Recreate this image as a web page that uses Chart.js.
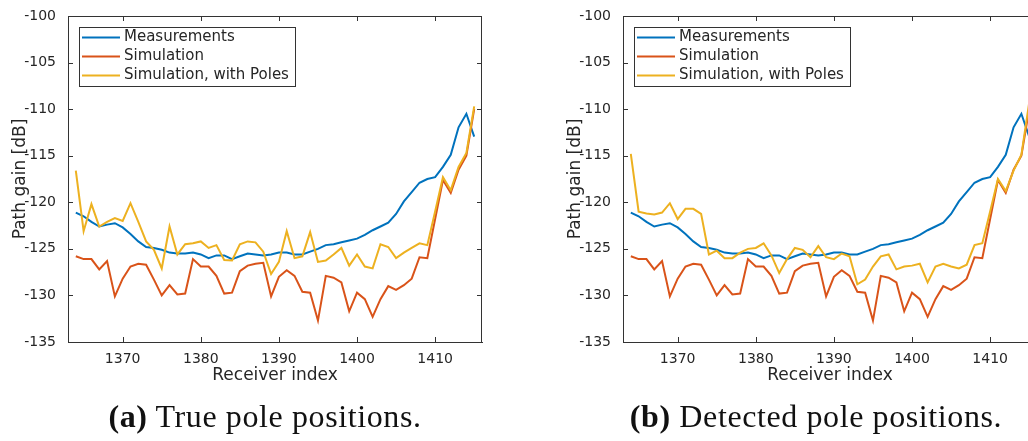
<!DOCTYPE html>
<html>
<head>
<meta charset="utf-8">
<title>Path gain vs receiver index</title>
<script src="https://cdn.jsdelivr.net/npm/chart.js@4.4.0/dist/chart.umd.min.js"></script>
<style>
  html, body { margin: 0; padding: 0; background: #fff; }
  body { width: 1028px; height: 441px; overflow: hidden; position: relative; }
  .panel { position: absolute; top: 0; width: 500px; height: 400px; }
  #panelA { left: 0; }
  #panelB { left: 555px; }
  .caption {
    position: absolute; top: 398px;
    font-family: 'Liberation Serif', serif; font-size: 32px; color: #111;
    letter-spacing: 0.6px;
    white-space: nowrap; transform: translateX(-50%);
  }
  .caption b { font-weight: bold; }
</style>
</head>
<body>
<div class="panel" id="panelA"><canvas id="chartA"></canvas></div>
<div class="panel" id="panelB"><canvas id="chartB"></canvas></div>
<div class="caption" style="left:265px"><b>(a)</b> True pole positions.</div>
<div class="caption" style="left:816px"><b>(b)</b> Detected pole positions.</div>

<script>
// ── data ────────────────────────────────────
const receiverIndex = [
  1364, 1365, 1366, 1367, 1368, 1369, 1370, 1371, 1372, 1373, 1374, 1375, 1376,
  1377, 1378, 1379, 1380, 1381, 1382, 1383, 1384, 1385, 1386, 1387, 1388, 1389,
  1390, 1391, 1392, 1393, 1394, 1395, 1396, 1397, 1398, 1399, 1400, 1401, 1402,
  1403, 1404, 1405, 1406, 1407, 1408, 1409, 1410, 1411, 1412, 1413, 1414, 1415
];

const measurements = [
  -121.1, -121.5, -122.1, -122.6, -122.4, -122.25, -122.7, -123.4, -124.2, -124.8, -124.9, -125.1, -125.4,
  -125.5, -125.5, -125.4, -125.6, -126.0, -125.7, -125.7, -126.1, -125.8, -125.5, -125.6, -125.7, -125.6,
  -125.4, -125.4, -125.6, -125.6, -125.3, -125.0, -124.6, -124.5, -124.3, -124.1, -123.9, -123.5, -123.0,
  -122.6, -122.2, -121.25, -119.9, -118.9, -117.9, -117.5, -117.3, -116.2, -114.9, -111.95, -110.5, -112.95
];

const simulation = [
  -125.8, -126.1, -126.1, -127.2, -126.3, -130.1, -128.2, -126.9, -126.6, -126.7, -128.3, -130.0, -128.9,
  -129.9, -129.8, -126.1, -126.9, -126.9, -127.9, -129.8, -129.7, -127.4, -126.8, -126.6, -126.5, -130.1,
  -128.0, -127.3, -127.9, -129.6, -129.7, -132.7, -127.9, -128.1, -128.6, -131.7, -129.7, -130.4, -132.3,
  -130.4, -129.0, -129.4, -128.9, -128.2, -125.9, -126.0, -121.8, -117.6, -119.0, -116.5, -115.0, -110.0
];

// (a) true pole positions
const simPolesTrue = [
  -116.6, -123.1, -120.2, -122.6, -122.1, -121.7, -122.0, -120.1, -122.1, -124.2, -125.1, -127.1, -122.6,
  -125.6, -124.5, -124.4, -124.2, -124.9, -124.6, -126.2, -126.25, -124.5, -124.2, -124.3, -125.3, -127.7,
  -126.4, -123.1, -126.0, -125.8, -123.2, -126.4, -126.25, -125.6, -124.9, -126.8, -125.6, -126.9, -127.1,
  -124.5, -124.8, -126.0, -125.4, -124.9, -124.4, -124.6, -121.0, -117.3, -118.7, -116.2, -114.7, -109.7
];

// (b) detected pole positions
const simPolesDetected = [
  -114.8, -121.0, -121.2, -121.3, -121.1, -120.1, -121.8, -120.7, -120.7, -121.25, -125.6, -125.2, -126.0,
  -126.0, -125.4, -125.0, -124.9, -124.4, -125.7, -127.6, -126.1, -124.9, -125.1, -125.9, -124.7, -125.9,
  -126.1, -125.5, -125.8, -128.8, -128.3, -126.9, -125.8, -125.6, -127.2, -126.9, -126.8, -126.6, -128.6,
  -126.9, -126.6, -126.9, -127.1, -126.7, -124.6, -124.4, -121.0, -117.5, -118.8, -116.6, -114.9, -109.3
];

const seriesLabels = ['Measurements', 'Simulation', 'Simulation, with Poles'];
const xTicks = [1370, 1380, 1390, 1400, 1410];
const yTicks = [-135, -130, -125, -120, -115, -110, -105, -100];

// ── style ───────────────────────────────────
const COLORS = ['#0072BD', '#D95319', '#EDB120'];
const AXIS = '#333333';
const TEXT = '#262626';
const FONT = "'DejaVu Sans', sans-serif";

// MATLAB-like box, inward ticks and legend inside the axes
const matlabAxes = {
  id: 'matlabAxes',
  afterDraw(chart) {
    const { ctx, chartArea: a, scales: { x, y } } = chart;
    const tick = 5;
    ctx.save();
    ctx.strokeStyle = AXIS;
    ctx.lineWidth = 1;
    ctx.beginPath();
    ctx.moveTo(a.left, a.top + 0.5);
    ctx.lineTo(a.right, a.top + 0.5);
    ctx.moveTo(a.right - 0.5, a.top);
    ctx.lineTo(a.right - 0.5, a.bottom);
    x.ticks.forEach(t => {
      const px = Math.round(x.getPixelForValue(t.value)) + 0.5;
      ctx.moveTo(px, a.bottom); ctx.lineTo(px, a.bottom - tick);
      ctx.moveTo(px, a.top); ctx.lineTo(px, a.top + tick);
    });
    y.ticks.forEach(t => {
      const py = Math.round(y.getPixelForValue(t.value)) + 0.5;
      ctx.moveTo(a.left, py); ctx.lineTo(a.left + tick, py);
      ctx.moveTo(a.right, py); ctx.lineTo(a.right - tick, py);
    });
    ctx.stroke();

    // legend box
    const bx = a.left + 11, by = a.top + 11, bw = 216, bh = 59;
    ctx.fillStyle = '#fff';
    ctx.fillRect(bx, by, bw, bh);
    ctx.strokeStyle = AXIS;
    ctx.strokeRect(bx + 0.5, by + 0.5, bw, bh);
    ctx.font = '15px ' + FONT;
    ctx.textBaseline = 'middle';
    chart.data.datasets.forEach((ds, i) => {
      const ry = by + 10.5 + i * 19;
      ctx.strokeStyle = ds.borderColor;
      ctx.lineWidth = 2;
      ctx.beginPath();
      ctx.moveTo(bx + 3, ry);
      ctx.lineTo(bx + 41, ry);
      ctx.stroke();
      ctx.fillStyle = TEXT;
      ctx.fillText(ds.label, bx + 45, ry);
    });
    ctx.restore();
  }
};

function makeChart(canvasId, polesSeries) {
  const series = [measurements, simulation, polesSeries];
  const ctx = document.getElementById(canvasId).getContext('2d');
  return new Chart(ctx, {
    type: 'line',
    data: {
      datasets: series.map((vals, i) => ({
        label: seriesLabels[i],
        data: receiverIndex.map((r, k) => ({ x: r, y: vals[k] })),
        borderColor: COLORS[i],
        borderWidth: 2,
        pointRadius: 0,
        tension: 0,
        fill: false,
        order: 2 - i
      }))
    },
    options: {
      responsive: true,
      maintainAspectRatio: false,
      animation: false,
      layout: { padding: { left: 0, top: 16, right: 18, bottom: 0 } },
      plugins: {
        legend: { display: false },
        tooltip: { enabled: false }
      },
      scales: {
        x: {
          type: 'linear',
          min: 1363,
          max: 1416,
          afterBuildTicks: s => { s.ticks = xTicks.map(v => ({ value: v })); },
          afterFit: s => { s.height = 58; },
          grid: { display: false },
          border: { display: true, color: AXIS, width: 1 },
          ticks: {
            font: { family: FONT, size: 14 },
            color: TEXT,
            padding: 1,
            maxRotation: 0,
            callback: v => String(v)
          },
          title: {
            display: true,
            text: 'Receiver index',
            font: { family: FONT, size: 17 },
            color: TEXT,
            padding: { top: 0, bottom: 14 }
          }
        },
        y: {
          min: -135,
          max: -100,
          afterBuildTicks: s => { s.ticks = yTicks.map(v => ({ value: v })); },
          afterFit: s => { s.width = 68; },
          grid: { display: false },
          border: { display: true, color: AXIS, width: 1 },
          ticks: {
            font: { family: FONT, size: 14 },
            color: TEXT,
            padding: 4,
            callback: v => String(v)
          },
          title: {
            display: true,
            text: 'Path gain [dB]',
            font: { family: FONT, size: 17 },
            color: TEXT,
            padding: { top: 10, bottom: 0 }
          }
        }
      }
    },
    plugins: [matlabAxes]
  });
}

makeChart('chartA', simPolesTrue);
makeChart('chartB', simPolesDetected);
</script>
</body>
</html>
